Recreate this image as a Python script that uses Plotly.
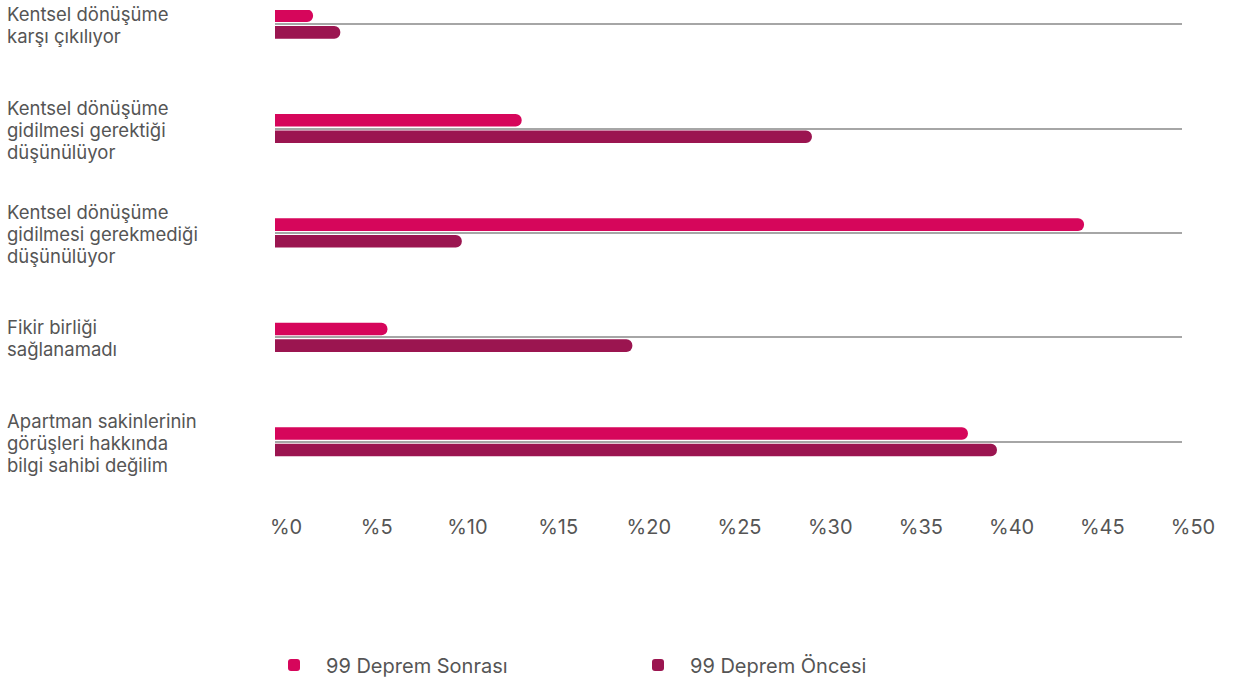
import plotly.graph_objects as go

categories = [
    "Kentsel dönüşüme<br>karşı çıkılıyor",
    "Kentsel dönüşüme<br>gidilmesi gerektiği<br>düşünülüyor",
    "Kentsel dönüşüme<br>gidilmesi gerekmediği<br>düşünülüyor",
    "Fikir birliği<br>sağlanamadı",
    "Apartman sakinlerinin<br>görüşleri hakkında<br>bilgi sahibi değilim",
]
series_names = ["99 Deprem Sonrası", "99 Deprem Öncesi"]
sonrasi = [2.1, 13.6, 44.6, 6.2, 38.2]
oncesi = [3.6, 29.6, 10.3, 19.7, 39.8]
tick_vals = [0, 5, 10, 15, 20, 25, 30, 35, 40, 45, 50]
tick_text = ["%" + str(v) for v in tick_vals]

PINK = "#d6065b"
DARK = "#9b1550"
TEXT = "#555555"
FONT = "Inter"

W, H = 1234, 710  # page window is 680 tall; extra room keeps legend from shrinking plot
ML, MR, MT = 275, 52, 10
PH = 492
MB = H - MT - PH
PW = W - ML - MR

fig = go.Figure()
fig.add_trace(go.Bar(y=categories, x=sonrasi, name=series_names[0], orientation="h",
                     marker=dict(color=PINK, cornerradius="50%", line=dict(width=0))))
fig.add_trace(go.Bar(y=categories, x=oncesi, name=series_names[1], orientation="h",
                     marker=dict(color=DARK, cornerradius="50%", line=dict(width=0))))

annotations = []
line_h = 22
for cat in categories:
    lines = cat.split("<br>")
    n = len(lines)
    for j, ln in enumerate(lines):
        annotations.append(dict(
            x=(5 - ML) / PW, xref="paper", y=cat, yref="y",
            text=ln, showarrow=False, xanchor="left", yanchor="middle",
            yshift=-((j - (n - 1) / 2) * line_h) - 1,
            font=dict(family=FONT, size=18.5, color=TEXT),
        ))

fig.update_layout(
    width=W, height=H,
    margin=dict(l=ML, r=MR, t=MT, b=MB),
    paper_bgcolor="white", plot_bgcolor="white",
    barmode="group", bargap=0.683, bargroupgap=0.24,
    font=dict(family=FONT, size=20, color=TEXT),
    showlegend=True,
    legend=dict(orientation="h", x=(262 - ML) / PW, xanchor="left",
                y=(PH - (665 - MT)) / PH, yanchor="middle",
                font=dict(family=FONT, size=20, color=TEXT),
                entrywidth=295, entrywidthmode="pixels", itemwidth=54,
                traceorder="normal"),
    annotations=annotations,
)
fig.update_xaxes(range=[0, 50], tickvals=tick_vals, ticktext=tick_text,
                 showgrid=False, zeroline=False, showline=False, ticks="",
                 ticklabelshift=11, ticklabelstandoff=11,
                 tickfont=dict(family=FONT, size=20, color=TEXT))
fig.update_yaxes(autorange=False, range=[4.577, -0.135], showticklabels=False,
                 showgrid=True, gridcolor="#a6a6a6", gridwidth=2,
                 zeroline=False, showline=False, ticks="")

fig.write_html("out.html", config={"displayModeBar": False},
               post_script="document.body.style.margin='0';document.body.style.overflow='hidden';")
